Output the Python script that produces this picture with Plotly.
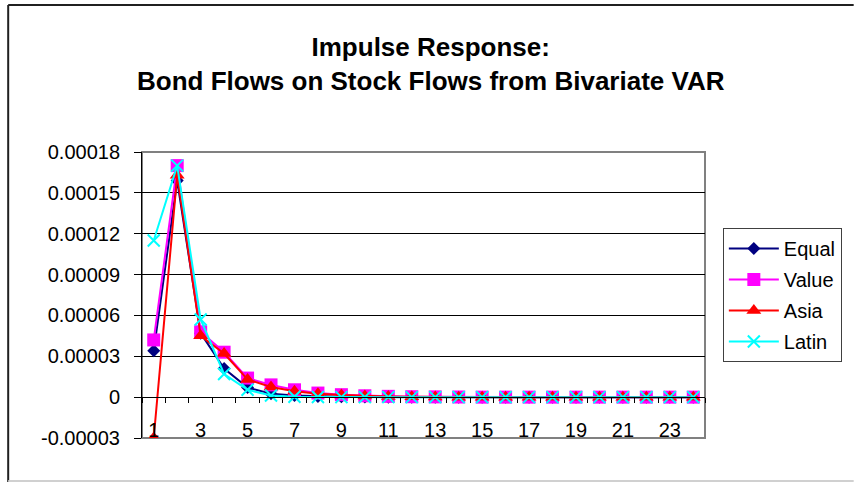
import plotly.graph_objects as go

periods = list(range(1, 25))
equal = [3.4e-5, 1.59e-4, 4.7e-5, 2.1e-5, 7.0e-6, 2.5e-6, 1.2e-6, 5e-7, 2e-7, 1e-7,
         0, 0, 0, 0, 0, 0, 0, 0, 0, 0, 0, 0, 0, 0]
value = [4.2e-5, 1.70e-4, 4.8e-5, 3.3e-5, 1.4e-5, 9.0e-6, 5.4e-6, 3.0e-6, 1.8e-6, 1.0e-6,
         6e-7, 3e-7, 2e-7, 1e-7, 0, 0, 0, 0, 0, 0, 0, 0, 0, 0]
asia = [-3.0e-5, 1.63e-4, 4.5e-5, 3.2e-5, 1.3e-5, 7.5e-6, 4.4e-6, 2.5e-6, 1.5e-6, 8e-7,
        5e-7, 3e-7, 1e-7, 0, 0, 0, 0, 0, 0, 0, 0, 0, 0, 0]
latin = [1.15e-4, 1.70e-4, 5.7e-5, 1.7e-5, 5.4e-6, 1.2e-6, 3e-7, 1e-7, 0, 0,
         0, 0, 0, 0, 0, 0, 0, 0, 0, 0, 0, 0, 0, 0]

x_tickvals = [1, 3, 5, 7, 9, 11, 13, 15, 17, 19, 21, 23]
y_tickvals = [-0.00003, 0, 0.00003, 0.00006, 0.00009, 0.00012, 0.00015, 0.00018]
y_ticktext = ["-0.00003", "0", "0.00003", "0.00006", "0.00009", "0.00012", "0.00015", "0.00018"]

FONT = "Liberation Sans, Arial, sans-serif"

series = [
    ("Equal", equal, "#000080", dict(symbol="diamond", size=10, color="#000080")),
    ("Value", value, "#FF00FF", dict(symbol="square", size=13, color="#FF00FF")),
    ("Asia", asia, "#FF0000", dict(symbol="triangle-up", size=13, color="#FF0000")),
    ("Latin", latin, "#00FFFF", dict(symbol="x-thin", size=12, color="#00FFFF",
                                      line=dict(color="#00FFFF", width=2))),
]

fig = go.Figure()
for name, vals, col, mk in series:
    fig.add_trace(go.Scatter(x=periods, y=vals, name=name, mode="lines+markers",
                             line=dict(color=col, width=2), marker=mk,
                             legendgroup=name))

L, R, T, B = 142, 710, 152, 438
W, H = 854, 483
pw, ph = R - L, B - T

def px(xp):
    return (xp - L) / pw

def py(yp):
    return (B - yp) / ph

fig.update_layout(
    width=W, height=H,
    margin=dict(l=L, r=W - R, t=T, b=H - B, pad=0),
    paper_bgcolor="white", plot_bgcolor="white",
    font=dict(family=FONT, size=20, color="black"),
    showlegend=True,
    legend=dict(x=px(728), y=py(228), xanchor="left", yanchor="top",
                bordercolor="#404040", borderwidth=1, bgcolor="white",
                font=dict(family=FONT, size=20, color="black"),
                traceorder="grouped", tracegroupgap=2, itemwidth=50),
    xaxis=dict(range=[0.5, 24.5], tickvals=x_tickvals, ticks="",
               showgrid=False, zeroline=False,
               showline=True, linecolor="black", linewidth=1,
               anchor="free", position=1 / 7,
               ticklabelstandoff=15,
               minor=dict(tick0=0.5, dtick=1, ticks="outside", ticklen=5,
                          tickcolor="black", tickwidth=1, showgrid=False),
               tickfont=dict(family=FONT, size=20, color="black")),
    yaxis=dict(range=[-0.00003, 0.00018], tickvals=y_tickvals, ticktext=y_ticktext,
               ticks="outside", ticklen=7, tickcolor="black",
               showgrid=True, gridcolor="black", gridwidth=1,
               zeroline=False, showline=True, linecolor="black", linewidth=1,
               ticklabelstandoff=10,
               tickfont=dict(family=FONT, size=20, color="black")),
    annotations=[dict(text="<b>Impulse Response:<br>Bond Flows on Stock Flows from Bivariate VAR</b>",
                      xref="paper", yref="paper", x=px(434), y=py(64),
                      xanchor="center", yanchor="middle", showarrow=False,
                      font=dict(family=FONT, size=26, color="black"))],
    shapes=[
        dict(type="rect", xref="paper", yref="paper", x0=0, x1=1, y0=0, y1=1,
             line=dict(color="#808080", width=2), layer="between"),
        dict(type="line", xref="paper", yref="paper", x0=px(7), x1=px(860), y0=py(5), y1=py(5),
             line=dict(color="#202020", width=2)),
        dict(type="line", xref="paper", yref="paper", x0=px(7), x1=px(7), y0=py(5), y1=py(482),
             line=dict(color="#202020", width=2)),
        dict(type="line", xref="paper", yref="paper", x0=px(7), x1=px(860), y0=py(481), y1=py(481),
             line=dict(color="#d0d0d0", width=2)),
    ],
)

fig.write_html("out.html", config={"displayModeBar": False},
               post_script="document.body.style.margin='0';document.body.style.overflow='hidden';")
